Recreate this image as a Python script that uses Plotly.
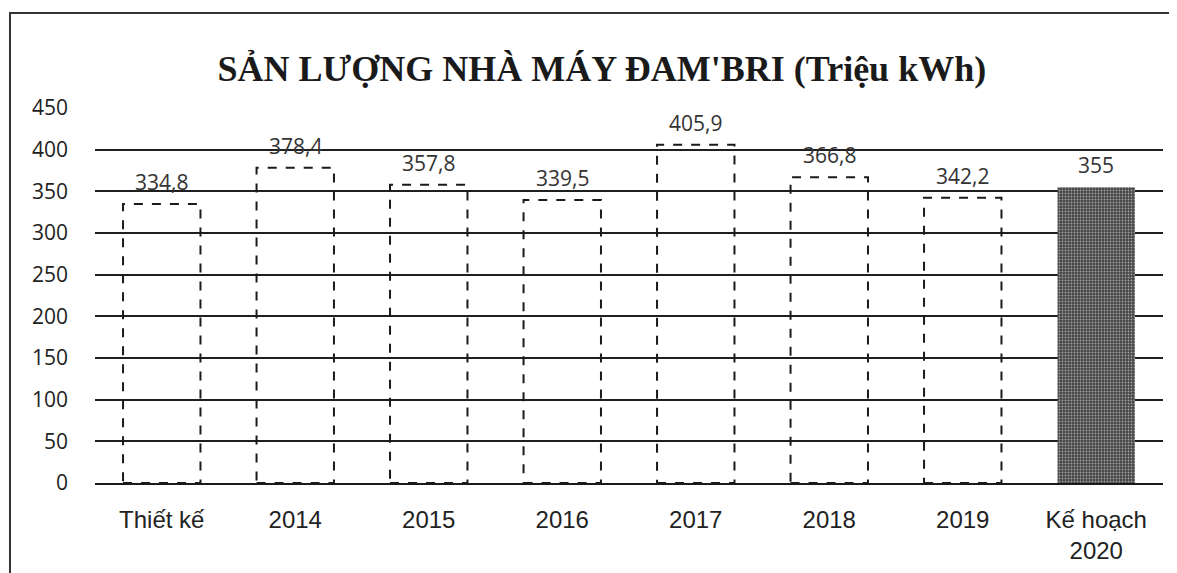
import plotly.graph_objects as go

categories = ["Thiết kế", "2014", "2015", "2016", "2017", "2018", "2019", "Kế hoạch<br>2020"]
values = [334.8, 378.4, 357.8, 339.5, 405.9, 366.8, 342.2, 355]
labels = ["334,8", "378,4", "357,8", "339,5", "405,9", "366,8", "342,2", "355"]
planned = [False, False, False, False, False, False, False, True]
y_ticks = [0, 50, 100, 150, 200, 250, 300, 350, 400, 450]

BAR_W = 0.58

fig = go.Figure()
fig.add_trace(go.Bar(
    x=list(range(len(categories))),
    y=values,
    width=BAR_W,
    marker=dict(
        color=["#454545" if p else "rgba(0,0,0,0)" for p in planned],
        line=dict(width=0),
        pattern=dict(shape=["." if p else "" for p in planned], fgcolor="#6a6a6a",
                     bgcolor="#3c3c3c", size=3, solidity=0.3),
    ),
    showlegend=False,
    hoverinfo="skip",
))

annotations = []
for i, (v, t) in enumerate(zip(values, labels)):
    annotations.append(dict(
        x=i, y=v, xref="x", yref="y", text=t, showarrow=False,
        yanchor="bottom", yshift=6,
        font=dict(family="Open Sans, Liberation Sans, sans-serif", size=21, color="#333333"),
    ))

shapes = []
for i, (v, p) in enumerate(zip(values, planned)):
    if p:
        continue
    shapes.append(dict(
        type="rect", xref="x", yref="y",
        x0=i - BAR_W / 2, x1=i + BAR_W / 2, y0=0, y1=v,
        line=dict(color="#1a1a1a", width=2, dash="dash"),
        fillcolor="rgba(0,0,0,0)", layer="above",
    ))
# outer frame of the scanned figure
shapes.append(dict(type="rect", xref="paper", yref="paper",
                   x0=-0.0796, x1=1.05, y0=-0.3, y1=1.2533,
                   line=dict(color="#333333", width=2), layer="below"))

fig.update_layout(
    width=1169, height=565,
    paper_bgcolor="white", plot_bgcolor="white",
    margin=dict(l=87, r=14, t=100, b=90),
    bargap=0.42,
    shapes=shapes,
    annotations=annotations,
    title=dict(
        text="<b>SẢN LƯỢNG NHÀ MÁY ĐAM'BRI (Triệu kWh)</b>",
        x=0.508, xanchor="center", y=0.893, yanchor="middle",
        font=dict(family="Liberation Serif, Times New Roman, serif", size=36, color="#1a1a1a"),
    ),
    xaxis=dict(
        tickmode="array",
        tickvals=list(range(len(categories))),
        ticktext=categories,
        range=[-0.5, len(categories) - 0.5],
        showgrid=False,
        showline=True, linecolor="#1a1a1a", linewidth=2,
        ticks="", ticklabelstandoff=14, automargin=False,
        tickfont=dict(family="Liberation Sans, Arial, sans-serif", size=24, color="#222222"),
        fixedrange=True,
    ),
    yaxis=dict(
        range=[0, 450],
        tickvals=y_ticks,
        showgrid=True, gridcolor="#1f1f1f", gridwidth=2,
        zeroline=False, showline=False, automargin=False,
        ticks="", ticklabelstandoff=26,
        tickfont=dict(family="Open Sans, Liberation Sans, sans-serif", size=21, color="#222222"),
        fixedrange=True,
    ),
)

fig.write_html("out.html")
